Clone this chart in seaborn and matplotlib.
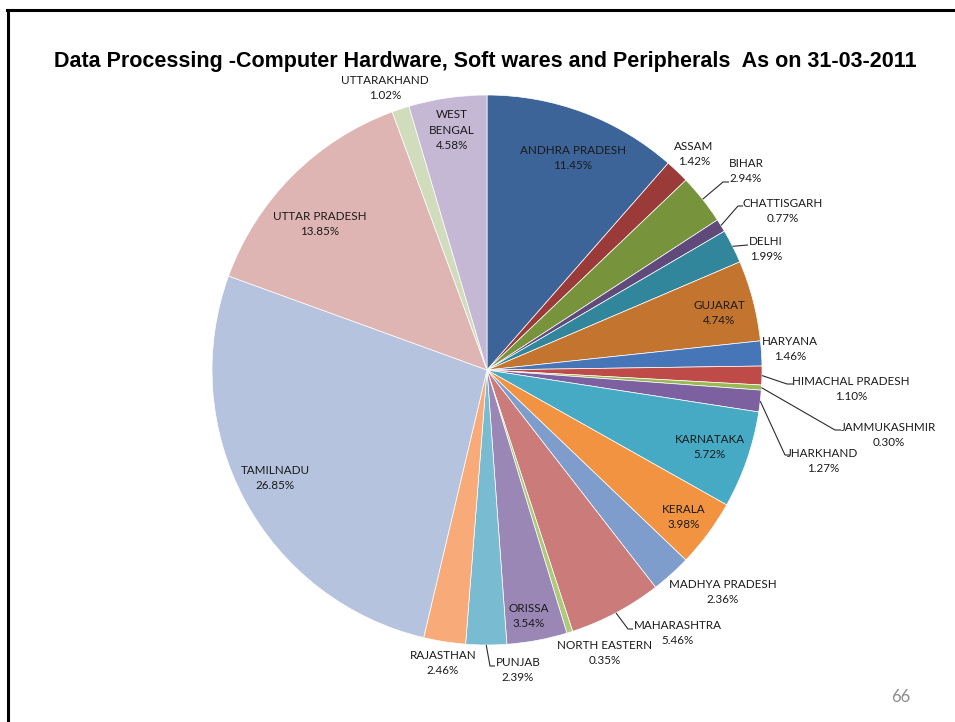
import matplotlib
matplotlib.use("Agg")
import matplotlib.pyplot as plt
import seaborn as sns
import numpy as np

# Share of data-processing assets by state (%), clockwise from 12 o'clock
states = ["ANDHRA PRADESH", "ASSAM", "BIHAR", "CHATTISGARH", "DELHI", "GUJARAT",
          "HARYANA", "HIMACHAL PRADESH", "JAMMUKASHMIR", "JHARKHAND", "KARNATAKA",
          "KERALA", "MADHYA PRADESH", "MAHARASHTRA", "NORTH EASTERN", "ORISSA",
          "PUNJAB", "RAJASTHAN", "TAMILNADU", "UTTAR PRADESH", "UTTARAKHAND",
          "WEST BENGAL"]
shares = [11.45, 1.42, 2.94, 0.77, 1.99, 4.74,
          1.46, 1.10, 0.30, 1.27, 5.72,
          3.98, 2.36, 5.46, 0.35, 3.54,
          2.39, 2.46, 26.85, 13.85, 1.02,
          4.58]

title = "Data Processing -Computer Hardware, Soft wares and Peripherals  As on 31-03-2011"
page_no = "66"

# Office-style slice colours: dark shades, base accents, then two tints
slice_colors = ["#3C6498", "#9B3B39", "#77933C", "#5F4A7B", "#31869C", "#C3752F",
                "#4676B8", "#BE4B48", "#98B954", "#7D60A0", "#46AAC5", "#F29342",
                "#7E9DCC", "#CB7B79", "#AFC97C", "#9A87B6", "#79BBD0", "#F8AA78",
                "#B5C3DE", "#DFB5B4", "#D0DCBB", "#C4B8D4"]

# Layout in pixel units (origin top-left): label block centres and leader elbows/ends
W, H = 955, 722
CX, CY, R = 487, 370, 275
label_pos = {
    "ANDHRA PRADESH": (573, 158), "ASSAM": (694, 154), "BIHAR": (746, 171),
    "CHATTISGARH": (783, 211), "DELHI": (766, 249), "GUJARAT": (719, 313),
    "HARYANA": (790, 349), "HIMACHAL PRADESH": (851, 389), "JAMMUKASHMIR": (889, 435),
    "JHARKHAND": (823, 461), "KARNATAKA": (710, 447), "KERALA": (684, 517),
    "MADHYA PRADESH": (723, 592), "MAHARASHTRA": (678, 633), "NORTH EASTERN": (605, 653),
    "ORISSA": (529, 616), "PUNJAB": (518, 670), "RAJASTHAN": (443, 663),
    "TAMILNADU": (275, 478), "UTTAR PRADESH": (320, 224), "UTTARAKHAND": (385, 88),
    "WEST BENGAL": (452, 130),
}
leaders = {
    "BIHAR": [(723, 182), (729, 182)],
    "CHATTISGARH": [(738, 206), (743, 206)],
    "DELHI": [(748, 245)],
    "HIMACHAL PRADESH": [(787, 384), (793, 384)],
    "JAMMUKASHMIR": [(835, 430), (841, 430)],
    "JHARKHAND": [(785, 455), (790, 455)],
    "MAHARASHTRA": [(628, 629), (633, 629)],
    "PUNJAB": [(490, 666), (495, 666)],
}
wrapped = {"WEST BENGAL": "WEST\nBENGAL"}

sns.set_theme(style="white")
plt.rcParams["font.family"] = ["Lato", "DejaVu Sans"]

fig = plt.figure(figsize=(W / 100, H / 100), dpi=100)
fig.patch.set_facecolor("white")
ax = fig.add_axes([0, 0, 1, 1])

palette = sns.color_palette(slice_colors)
wedges, _ = ax.pie(shares, colors=palette, startangle=90, counterclock=False,
                   center=(CX, H - CY), radius=R,
                   wedgeprops=dict(edgecolor="white", linewidth=0.5))
ax.set_xlim(0, W)
ax.set_ylim(0, H)
ax.set_aspect("equal")
ax.axis("off")

for name, val, w in zip(states, shares, wedges):
    x, y = label_pos[name]
    text = f"{wrapped.get(name, name)}\n{val:.2f}%"
    ax.text(x, H - y, text, ha="center", va="center", multialignment="center",
            fontsize=8.4, color="#1a1a1a", linespacing=1.5)
    if name in leaders:
        mid = np.deg2rad((w.theta1 + w.theta2) / 2)
        pts = [(CX + R * np.cos(mid), H - CY + R * np.sin(mid))]
        pts += [(px, H - py) for px, py in leaders[name]]
        xs, ys = zip(*pts)
        ax.plot(xs, ys, color="#2b2b2b", lw=0.8, solid_capstyle="butt")

ax.text(485, H - 62, title, ha="center", va="center", fontsize=15.5,
        fontweight="bold", family=["Liberation Sans", "DejaVu Sans"], color="black")
ax.text(901, H - 697, page_no, ha="center", va="center", fontsize=12, color="#8C8C8C")

# Slide frame: top and left rules
ax.plot([7, W], [H - 10, H - 10], color="black", lw=2.2, solid_capstyle="projecting")
ax.plot([8, 8], [H - 10, 0], color="black", lw=2.2, solid_capstyle="projecting")

fig.savefig("out.png", dpi=100, facecolor="white")
